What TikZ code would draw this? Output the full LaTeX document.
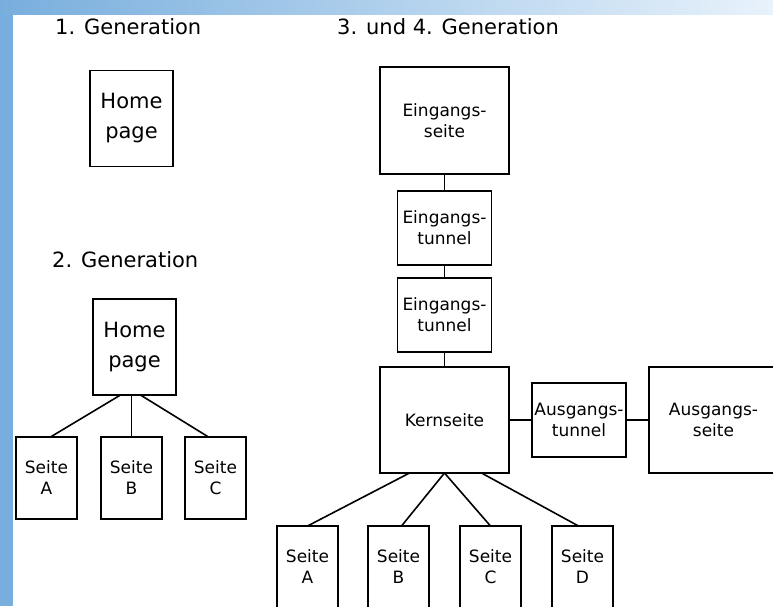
\documentclass[tikz,border=0pt]{standalone}
\usepackage{fontspec}
\setmainfont{DejaVu Sans}
\usetikzlibrary{positioning,calc}
\definecolor{stripblue}{HTML}{78AEDD}
\definecolor{stripfade}{HTML}{E8F2FB}
\tikzset{
  site/page/.style={draw, rectangle, line width=1.9pt, inner sep=0pt, outer sep=0pt, align=center, font=\fontsize{17}{21}\selectfont},
  site/big/.style={site/page, minimum width=129pt, minimum height=106pt},
  site/tunnel/.style={site/page, minimum width=94pt, minimum height=74pt},
  site/leaf/.style={site/page, minimum width=61pt, minimum height=82pt},
  site/home/.style={site/page, minimum width=83pt, minimum height=96pt, font=\fontsize{21}{30}\selectfont},
  site/link/.style={line width=1.6pt},
  site/title/.style={anchor=west, inner sep=0pt, font=\fontsize{21}{25}\selectfont}
}

\begin{document}
\begin{tikzpicture}[x=1pt, y=-1pt, node distance=15pt and 23pt]

\useasboundingbox (0,0) rectangle (773,606);
\clip (0,0) rectangle (773,606);

% --- frame strips ---
\fill[stripblue] (0,0) rectangle (13,606);
\shade[left color=stripblue, right color=stripfade] (0,0) rectangle (773,14);

% --- 1. Generation ---
\node[site/title] (gen1) at (55,27) {1. Generation};
\node[site/home] (home1) at (131.5,118.5) {Home\\page};

% --- 2. Generation ---
\node[site/title] (gen2) at (52,260) {2. Generation};
\node[site/home] (home2) at (134.5,347) {Home\\page};
\node[site/leaf] (leafB2) at (131.5,478) {Seite\\B};
\node[site/leaf, left=24pt of leafB2] (leafA2) {Seite\\A};
\node[site/leaf, right=23pt of leafB2] (leafC2) {Seite\\C};

\draw[site/link] ($(home2.south)+(-14,0)$) -- ($(leafA2.north)+(4,0)$);
\draw[site/link] (leafB2.north) -- (leafB2.north |- home2.south);
\draw[site/link] ($(home2.south)+(6,0)$) -- ($(leafC2.north)+(-7,0)$);

% --- 3. und 4. Generation ---
\node[site/title] (gen34) at (337,27) {3. und 4. Generation};
\node[site/big, minimum height=107pt] (entry) at (444.5,120.5) {Eingangs-\\seite};
\node[site/tunnel, below=17pt of entry] (tunnelA) {Eingangs-\\tunnel};
\node[site/tunnel, below=13pt of tunnelA] (tunnelB) {Eingangs-\\tunnel};
\node[site/big, below=of tunnelB] (core) {Kernseite};
\node[site/tunnel, right=of core] (exitT) {Ausgangs-\\tunnel};
\node[site/big, right=of exitT] (exitP) {Ausgangs-\\seite};

\draw[site/link] (entry) -- (tunnelA);
\draw[site/link] (tunnelA) -- (tunnelB);
\draw[site/link] (tunnelB) -- (core);
\draw[site/link] (core) -- (exitT);
\draw[site/link] (exitT) -- (exitP);

% leaves below the core page
\node[site/leaf, below=53pt of core, xshift=-46pt] (leafB) {Seite\\B};
\node[site/leaf, left=30pt of leafB] (leafA) {Seite\\A};
\node[site/leaf, right=31pt of leafB] (leafC) {Seite\\C};
\node[site/leaf, right=31pt of leafC] (leafD) {Seite\\D};

\draw[site/link] ($(core.south)+(-35,0)$) -- (leafA.north);
\draw[site/link] (core.south) -- ($(leafB.north)+(3,0)$);
\draw[site/link] (core.south) -- (leafC.north);
\draw[site/link] ($(core.south)+(37,0)$) -- ($(leafD.north)+(-4,0)$);

\end{tikzpicture}
\end{document}
